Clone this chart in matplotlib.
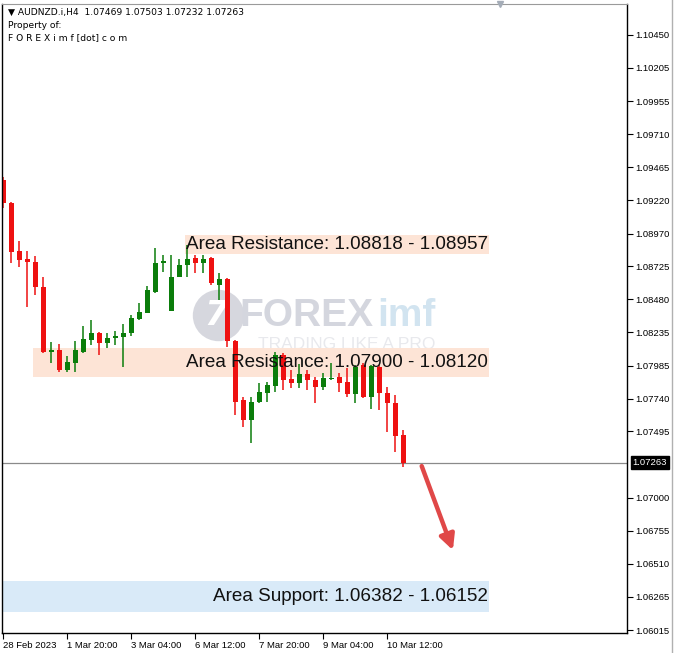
import matplotlib
matplotlib.use('Agg')
import matplotlib.pyplot as plt
from matplotlib.patches import Rectangle
from matplotlib.lines import Line2D

W, H = 677, 653

# AUDNZD H4 candles
opens = [1.09369, 1.09200, 1.08840, 1.08780, 1.08758, 1.08574, 1.08089, 1.08102, 1.07953, 1.08003,
         1.08089, 1.08177, 1.08231, 1.08156, 1.08194, 1.08201, 1.08226, 1.08331, 1.08380, 1.08537,
         1.08753, 1.08393, 1.08648, 1.08736, 1.08786, 1.08748, 1.08786, 1.08587, 1.08631, 1.08169,
         1.07729, 1.07580, 1.07717, 1.07784, 1.07834, 1.08065, 1.07884, 1.07854, 1.07925, 1.07878,
         1.07828, 1.07886, 1.07903, 1.07866, 1.07774, 1.07990, 1.07754, 1.07978, 1.07784, 1.07705,
         1.07469]
highs = [1.09392, 1.09207, 1.08917, 1.08842, 1.08803, 1.08648, 1.08159, 1.08147, 1.08057, 1.08169,
         1.08281, 1.08326, 1.08238, 1.08232, 1.08246, 1.08294, 1.08363, 1.08450, 1.08579, 1.08860,
         1.08810, 1.08810, 1.08778, 1.08885, 1.08810, 1.08810, 1.08797, 1.08674, 1.08636, 1.08177,
         1.07754, 1.07754, 1.07854, 1.07866, 1.08089, 1.08077, 1.07953, 1.07998, 1.07955, 1.07903,
         1.07928, 1.08003, 1.07928, 1.07966, 1.07990, 1.08003, 1.07990, 1.07990, 1.07828, 1.07767,
         1.07503]
lows = [1.09161, 1.08751, 1.08723, 1.08425, 1.08512, 1.08082, 1.08003, 1.07940, 1.07940, 1.07940,
        1.08082, 1.08139, 1.08065, 1.08117, 1.08139, 1.07978, 1.08206, 1.08326, 1.08376, 1.08525,
        1.08686, 1.08393, 1.08644, 1.08648, 1.08674, 1.08674, 1.08587, 1.08475, 1.08127, 1.07618,
        1.07530, 1.07407, 1.07705, 1.07717, 1.07791, 1.07804, 1.07817, 1.07817, 1.07804, 1.07709,
        1.07804, 1.07878, 1.07791, 1.07749, 1.07705, 1.07742, 1.07662, 1.07655, 1.07493, 1.07344,
        1.07232]
closes = [1.09198, 1.08835, 1.08773, 1.08756, 1.08569, 1.08089, 1.08104, 1.07953, 1.08010, 1.08100,
          1.08182, 1.08226, 1.08156, 1.08195, 1.08206, 1.08226, 1.08343, 1.08388, 1.08549, 1.08753,
          1.08763, 1.08644, 1.08736, 1.08778, 1.08748, 1.08778, 1.08599, 1.08634, 1.08169, 1.07717,
          1.07580, 1.07717, 1.07787, 1.07841, 1.08065, 1.07878, 1.07854, 1.07923, 1.07878, 1.07828,
          1.07891, 1.07895, 1.07858, 1.07774, 1.07978, 1.07754, 1.07983, 1.07779, 1.07705, 1.07461,
          1.07263]

time_ticks = [0, 8, 16, 24, 32, 40, 48]
time_labels = ['28 Feb 2023', '1 Mar 20:00', '3 Mar 04:00', '6 Mar 12:00',
               '7 Mar 20:00', '9 Mar 04:00', '10 Mar 12:00']
price_ticks = [1.10450, 1.10205, 1.09955, 1.09710, 1.09465, 1.09220, 1.08970, 1.08725,
               1.08480, 1.08235, 1.07985, 1.07740, 1.07495, 1.07000, 1.06755, 1.06510,
               1.06265, 1.06015]
last_price = 1.07263

zone_start = [23, 4, 0]
zone_end = [61, 61, 61]
zone_low = [1.08818, 1.07900, 1.06152]
zone_high = [1.08957, 1.08120, 1.06382]
zone_text = ['Area Resistance: 1.08818 - 1.08957',
             'Area Resistance: 1.07900 - 1.08120',
             'Area Support: 1.06382 - 1.06152']
zone_color = ['#fde4d6', '#fde4d6', '#d9eaf8']

arrow_from = (52.3, 1.07237)
arrow_to = (56.2, 1.06610)

fig = plt.figure(figsize=(W / 100, H / 100), dpi=100)
ax = fig.add_axes([2 / W, 20 / H, 625 / W, 629 / H])
ax.set_xlim(-0.16, 77.96)
ax.set_ylim(1.05993, 1.10681)

# zones
for s, e, lo, hi, txt, col in zip(zone_start, zone_end, zone_low, zone_high, zone_text, zone_color):
    ax.add_patch(Rectangle((s - 0.3, lo), e - s, hi - lo, facecolor=col, edgecolor='none', zorder=1))
    ax.text(e - 0.4, (lo + hi) / 2, txt, ha='right', va='center', fontsize=13.6,
            family='Liberation Sans', color='#111111', zorder=4)

# watermark
ax.plot([26.8], [1.08363], marker='o', markersize=37, color='#d6d7de', markeredgewidth=0, zorder=0.5)
ax.text(26.6, 1.08363, '7', ha='center', va='center', fontsize=24, fontweight='bold',
        fontstyle='italic', color='white', family='DejaVu Sans', zorder=0.6)
ax.text(29.5, 1.08358, 'FOREX', ha='left', va='center', fontsize=28, fontweight='bold',
        color='#d4d6de', family='Liberation Sans', zorder=0.5)
ax.text(46.7, 1.08358, 'imf', ha='left', va='center', fontsize=28, fontweight='bold',
        color='#d2e4f0', family='Liberation Sans', zorder=0.5)
ax.text(31.8, 1.08142, 'TRADING LIKE A PRO', ha='left', va='center', fontsize=12.5,
        color='#e8e9ed', family='Liberation Sans', zorder=0.5)

# candles
for i, (o, h, l, c) in enumerate(zip(opens, highs, lows, closes)):
    col = '#0b7d0b' if c >= o else '#ee1111'
    ax.vlines(i, l, h, color=col, lw=1.1, zorder=2)
    ax.add_patch(Rectangle((i - 0.3, min(o, c)), 0.6, max(abs(c - o), 0.00009),
                           facecolor=col, edgecolor='none', zorder=2))

ax.axhline(last_price, color='#8a8a8a', lw=0.9, zorder=1.5)

ax.annotate('', xy=arrow_to, xytext=arrow_from,
            arrowprops=dict(arrowstyle='-|>,head_length=0.9,head_width=0.45',
                            color='#e04848', lw=3.2, shrinkA=0, shrinkB=0), zorder=5)

# axes
ax.yaxis.tick_right()
ax.set_yticks(price_ticks)
ax.set_yticklabels(['%.5f' % p for p in price_ticks])
ax.set_xticks(time_ticks)
ax.set_xticklabels(time_labels, ha='left')
ax.tick_params(axis='both', labelsize=6.8, length=4, width=0.8, color='black', pad=2)
for lab in ax.get_xticklabels() + ax.get_yticklabels():
    lab.set_family('Liberation Sans')
for side in ['left', 'right', 'bottom']:
    ax.spines[side].set_color('black')
    ax.spines[side].set_linewidth(1)
ax.spines['top'].set_color('#9a9a9a')

ax.annotate('%.5f' % last_price, xy=(1.0, last_price), xycoords=('axes fraction', 'data'),
            xytext=(4, 0), textcoords='offset points', ha='left', va='center',
            fontsize=6.8, color='white', family='Liberation Sans',
            bbox=dict(boxstyle='square,pad=0.2', facecolor='black', edgecolor='black'))

ax.plot([62.1], [1.10681], marker='v', color='#a5adb8', markersize=5, clip_on=False, zorder=6)

# header
fig.text(8 / W, 1 - 12 / H, '\u25bc AUDNZD.i,H4  1.07469 1.07503 1.07232 1.07263',
         fontsize=6.6, va='center', family='DejaVu Sans')
fig.text(8 / W, 1 - 25 / H, 'Property of:', fontsize=6.6, va='center', family='DejaVu Sans')
fig.text(8 / W, 1 - 38 / H, 'F O R E X i m f [dot] c o m', fontsize=6.6, va='center',
         family='DejaVu Sans')

fig.add_artist(Line2D([672 / W, 672 / W], [0, 1], color='#b0b0b0', lw=1))

fig.savefig('out.png', dpi=100)
